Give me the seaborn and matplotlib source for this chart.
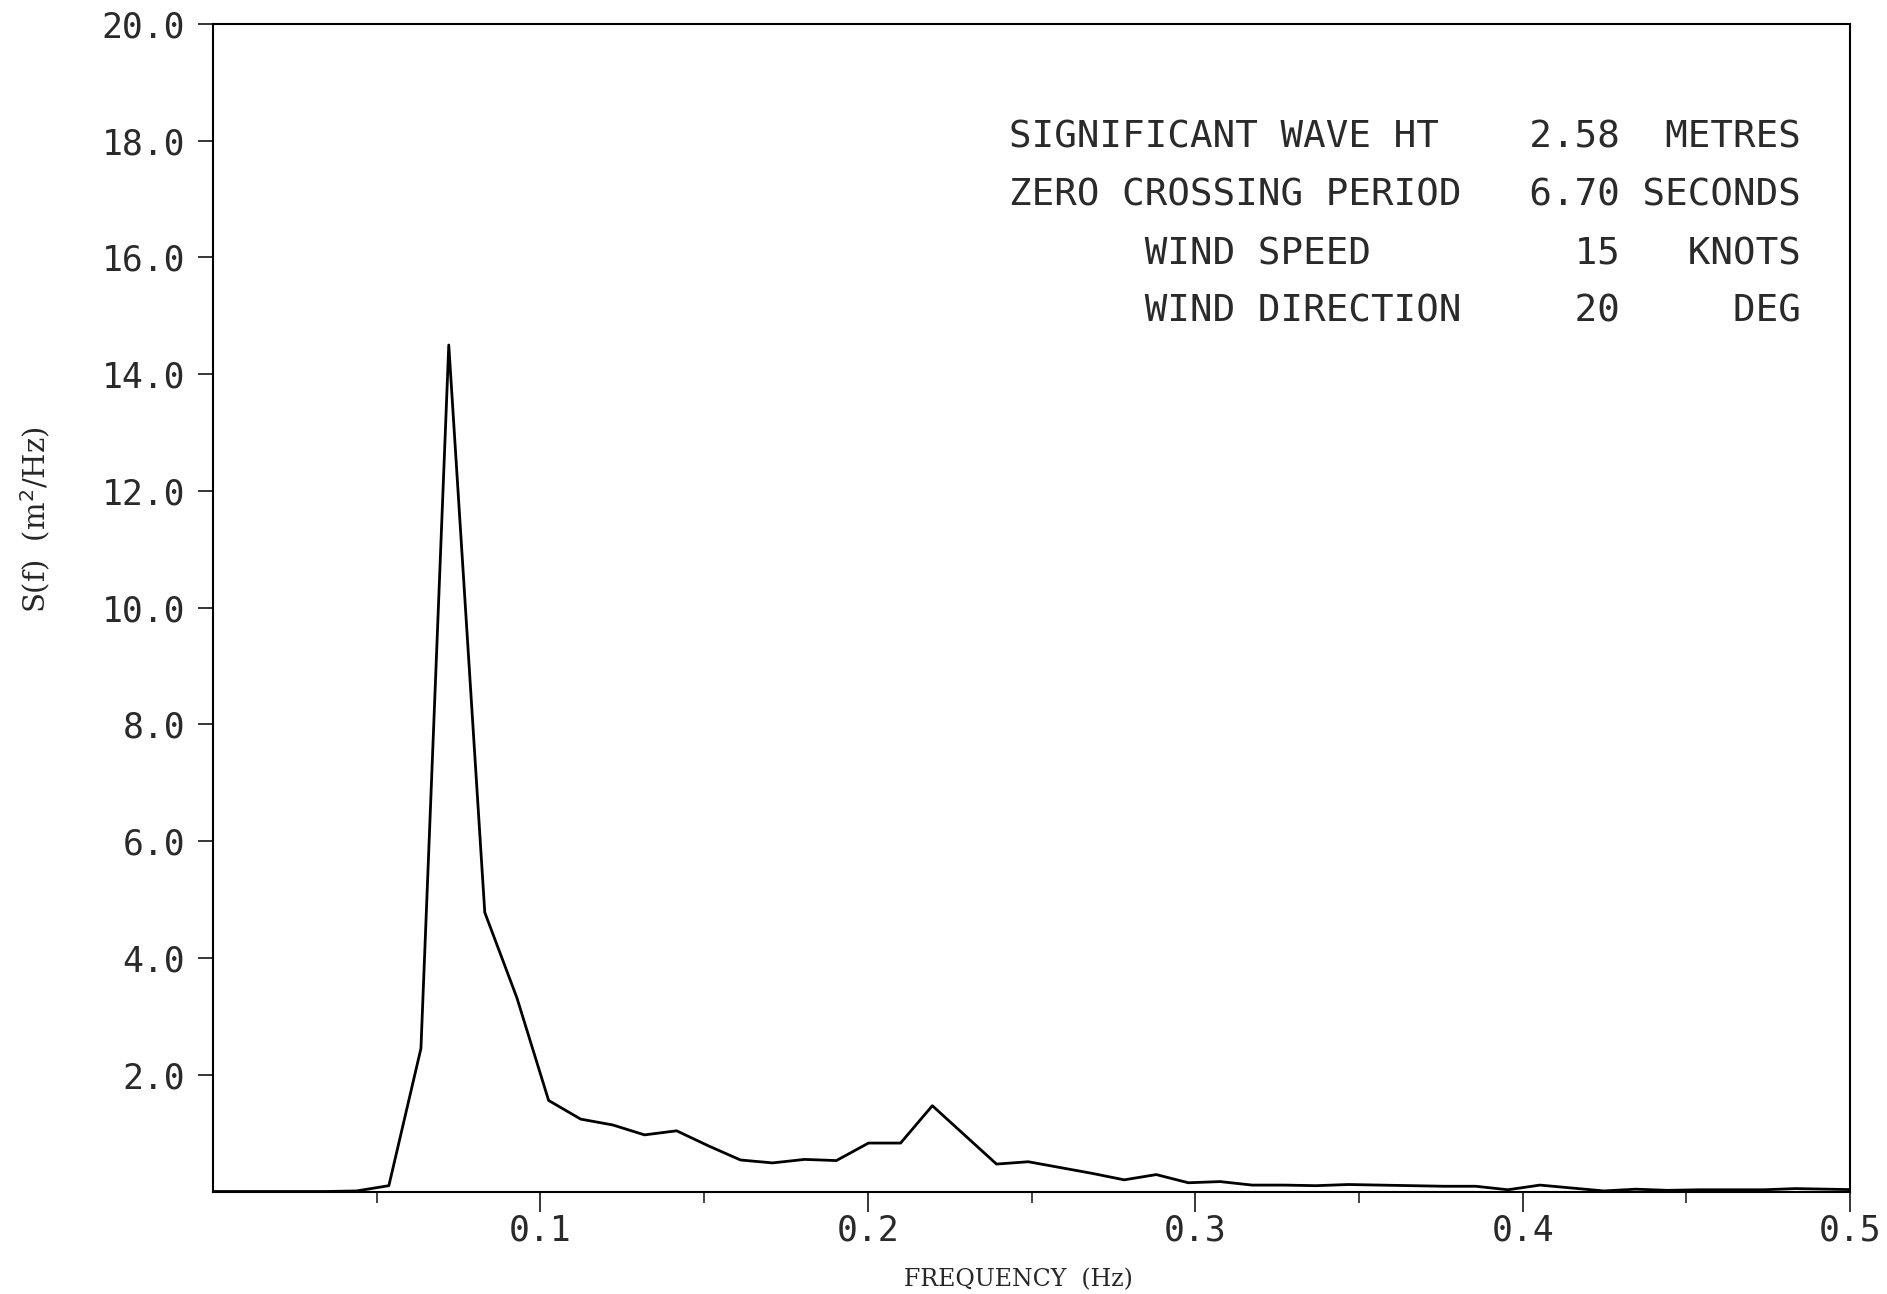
import matplotlib
matplotlib.use("Agg")
import matplotlib.pyplot as plt
import seaborn as sns

# --- data (wave spectrum)
freq = [0.0000, 0.0049, 0.0146, 0.0244, 0.0342, 0.0439, 0.0537, 0.0635, 0.0720, 0.0830,
        0.0928, 0.1025, 0.1123, 0.1221, 0.1318, 0.1416, 0.1514, 0.1611, 0.1709, 0.1807,
        0.1904, 0.2002, 0.2100, 0.2197, 0.2295, 0.2393, 0.2490, 0.2588, 0.2686, 0.2783,
        0.2881, 0.2979, 0.3076, 0.3174, 0.3271, 0.3369, 0.3467, 0.3564, 0.3662, 0.3760,
        0.3857, 0.3955, 0.4053, 0.4150, 0.4248, 0.4346, 0.4443, 0.4541, 0.4639, 0.4736,
        0.4834, 0.4932, 0.5029]
spec = [0.00, 0.00, 0.00, 0.00, 0.00, 0.01, 0.10, 2.45, 14.50, 4.78,
        3.32, 1.56, 1.24, 1.14, 0.97, 1.04, 0.78, 0.54, 0.49, 0.55,
        0.53, 0.83, 0.83, 1.47, 0.97, 0.47, 0.51, 0.41, 0.31, 0.20,
        0.29, 0.15, 0.17, 0.11, 0.11, 0.10, 0.12, 0.11, 0.10, 0.09,
        0.09, 0.03, 0.11, 0.06, 0.01, 0.04, 0.02, 0.03, 0.03, 0.03,
        0.05, 0.04, 0.03]

y_ticks = [2, 4, 6, 8, 10, 12, 14, 16, 18, 20]
x_major = [0.1, 0.2, 0.3, 0.4, 0.5]
x_minor = [0.05, 0.15, 0.25, 0.35, 0.45]

# header block, laid out on a fixed character grid like the plotter did
info_lines = [
    "SIGNIFICANT WAVE HT    2.58  METRES",
    "ZERO CROSSING PERIOD   6.70 SECONDS",
    "      WIND SPEED         15   KNOTS",
    "      WIND DIRECTION     20     DEG",
]
info_y = [0.8943, 0.8449, 0.7943, 0.7449]  # baselines, axes fraction

sns.set_style("ticks")
plt.rcParams['font.family'] = ['DejaVu Sans Mono']

fig = plt.figure(figsize=(18.87, 12.94), dpi=100)
ax = fig.add_axes([0.1129, 0.0792, 0.8675, 0.9023])

sns.lineplot(x=freq, y=spec, color="black", linewidth=2.0, ax=ax)

ax.set_xlim(0, 0.5)
ax.set_ylim(0, 20)

ax.set_yticks(y_ticks)
ax.set_yticklabels(["%.1f" % v for v in y_ticks])
ax.set_xticks(x_major)
ax.set_xticklabels(["%.1f" % v for v in x_major])
ax.set_xticks(x_minor, minor=True)

ax.tick_params(axis="y", which="major", direction="out", length=11, width=1.3,
               pad=9, labelsize=25, labelcolor="#2a2a2a")
ax.tick_params(axis="x", which="major", direction="out", length=14.5, width=1.3,
               pad=1.5, labelsize=25, labelcolor="#2a2a2a")
ax.tick_params(axis="x", which="minor", direction="out", length=8, width=1.2)

for s in ax.spines.values():
    s.set_visible(True)
    s.set_linewidth(1.5)
    s.set_color("black")

for line, yy in zip(info_lines, info_y):
    ax.text(0.486, yy, line, transform=ax.transAxes, fontsize=27,
            family="DejaVu Sans Mono", color="#2a2a2a", va="baseline", ha="left")

ax.set_xlabel("FREQUENCY  (Hz)", family="DejaVu Serif", fontsize=17)
ax.xaxis.set_label_coords(0.492, -0.066)
ax.set_ylabel("S(f)  (m$^2$/Hz)", family="DejaVu Serif", fontsize=21)
ax.yaxis.set_label_coords(-0.098, 0.575)

fig.savefig("out.png", dpi=100)
